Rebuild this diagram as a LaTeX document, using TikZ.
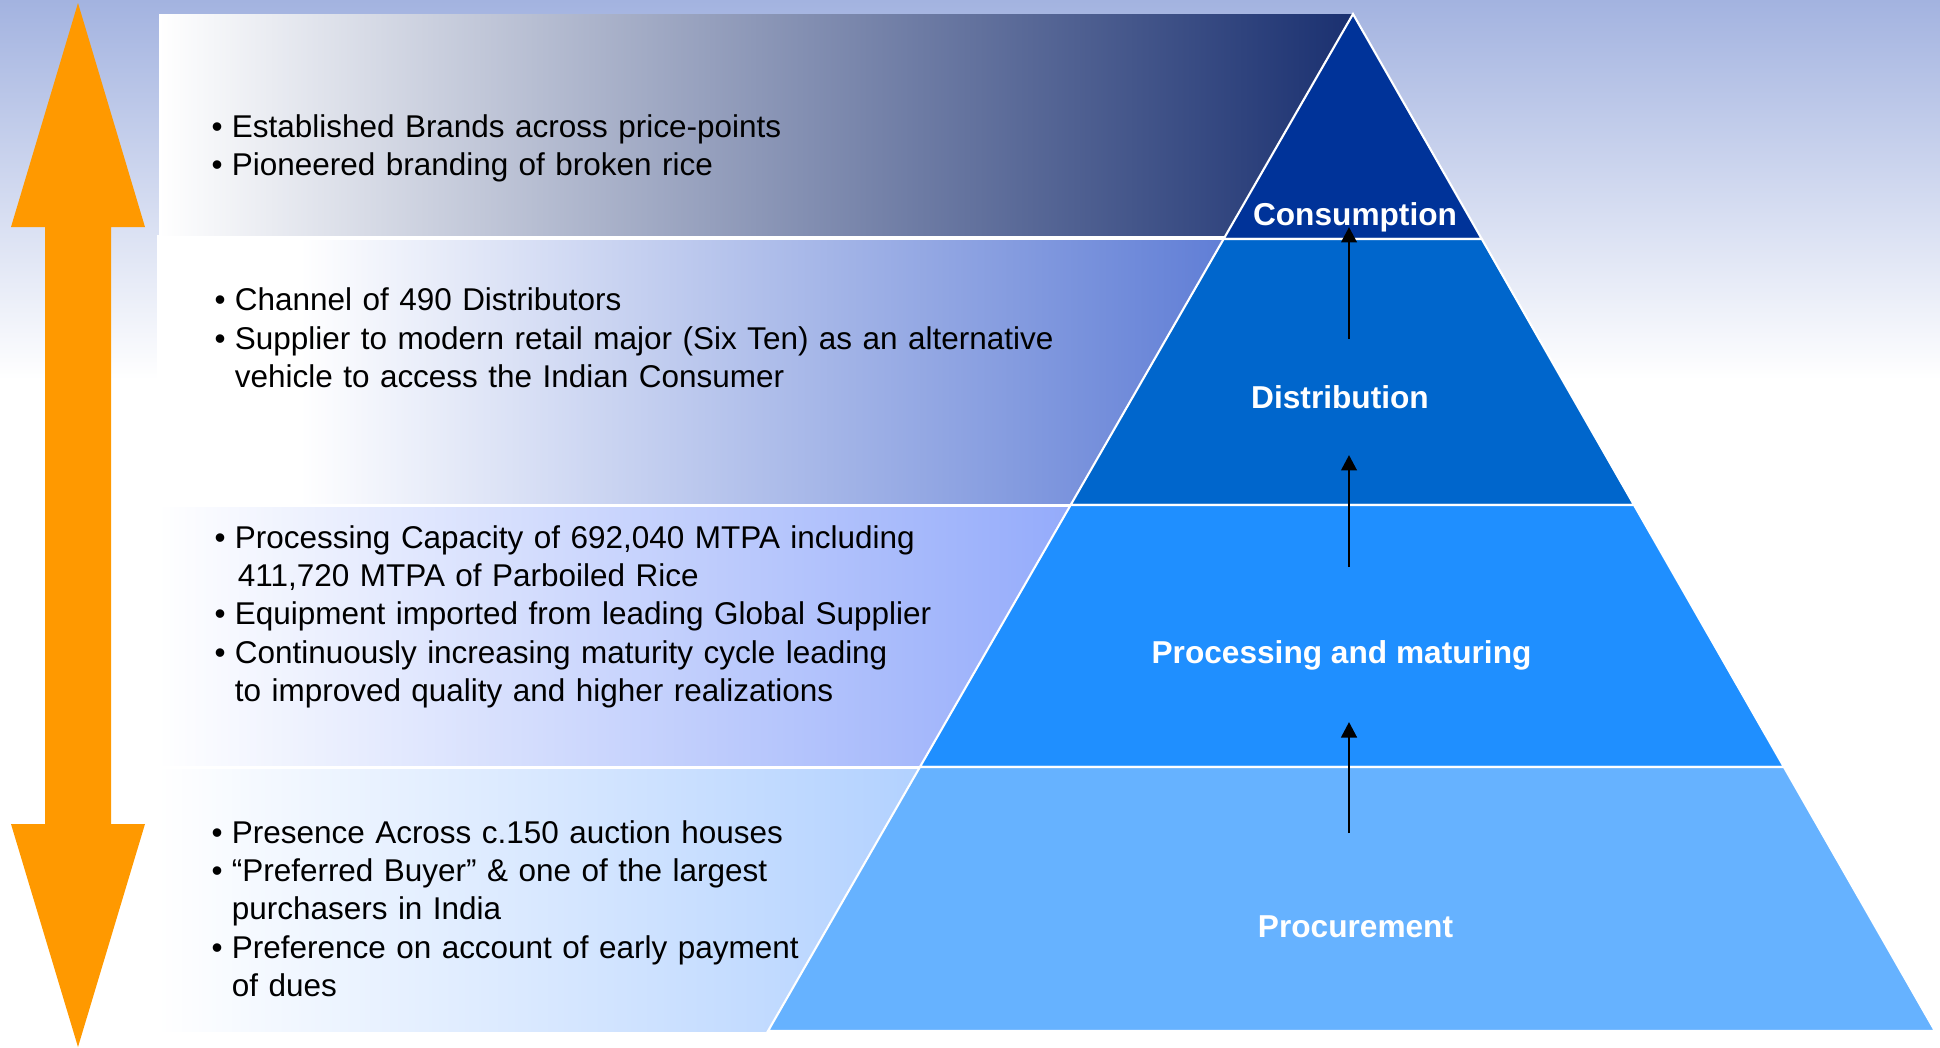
\documentclass[tikz,border=0pt]{standalone}
\usepackage{fontspec}
\setmainfont{Liberation Sans}
\usetikzlibrary{arrows.meta}
\definecolor{bgtop}{HTML}{A3B3E0}
\definecolor{orangeA}{HTML}{FF9900}
\definecolor{consC}{HTML}{003399}
\definecolor{distC}{HTML}{0066CC}
\definecolor{procC}{HTML}{1F8FFF}
\definecolor{procuC}{HTML}{66B2FF}
\definecolor{pOneM}{HTML}{C6C8D5}
\definecolor{pOneR}{HTML}{1A3070}
\definecolor{pTwoR}{HTML}{4A6CD0}
\definecolor{pThreeM}{HTML}{CDD6FB}
\definecolor{pThreeR}{HTML}{7391F9}
\definecolor{pFourM}{HTML}{D8E8FF}
\definecolor{pFourR}{HTML}{86B7FF}
\newcommand{\bitem}{\makebox[0.64em][l]{•}}
\newcommand{\bcont}{\hspace*{0.64em}}
\begin{document}
\begin{tikzpicture}[x=0.01cm,y=-0.01cm,
  body/.style={font=\fontsize{8.95}{10.9}\selectfont, anchor=base west, inner sep=0pt, text width=12cm, align=left},
  lbl/.style={font=\fontsize{9}{10.9}\selectfont\bfseries, text=white, anchor=base, inner sep=0pt},
  layer/.style={draw=white, line width=0.6pt},
  conn/.style={-{Triangle[length=4.4pt,width=4.4pt]}, line width=0.8pt, black}]
\useasboundingbox (0,0) rectangle (1940,1047);
% background
\fill[white] (0,0) rectangle (1940,1047);
\shade[top color=bgtop, bottom color=white] (0,0) rectangle (1940,380);
% panels
\fill[white] (157,235) rectangle (1353,1031);
\shade[left color=white, middle color=pOneM, right color=pOneR] (159,14) rectangle (1353,235);
\fill[white] (157,240) rectangle (302,503);
\shade[left color=white, right color=pTwoR] (300,240) rectangle (1353,503);
\shade[left color=white, middle color=pThreeM, right color=pThreeR] (157,507) rectangle (1353,765);
\shade[left color=white, middle color=pFourM, right color=pFourR] (157,769) rectangle (1353,1031);
% pyramid
\filldraw[layer, fill=consC] (1353,14) -- (1481.8,239) -- (1223.6,239) -- cycle;
\filldraw[layer, fill=distC] (1223.6,239) -- (1481.8,239) -- (1634.0,505) -- (1070.6,505) -- cycle;
\filldraw[layer, fill=procC] (1070.6,505) -- (1634.0,505) -- (1783.9,767) -- (919.9,767) -- cycle;
\filldraw[layer, fill=procuC] (919.9,767) -- (1783.9,767) -- (1935,1031) -- (768,1031) -- cycle;
% orange double arrow
\fill[orangeA] (78,3) -- (145,227) -- (111,227) -- (111,824) -- (145,824) -- (78,1047)
  -- (11,824) -- (45,824) -- (45,227) -- (11,227) -- cycle;
% labels
\node[lbl] (cons) at (1355,225) {Consumption};
\node[lbl] (dist) at (1340,408) {Distribution};
\node[lbl] (proc) at (1341.5,663) {Processing and maturing};
\node[lbl] (procu) at (1355.5,937) {Procurement};
% arrows
\coordinate (t1) at (1349,339); \coordinate (h1) at (1349,227);
\coordinate (t2) at (1349,567); \coordinate (h2) at (1349,455);
\coordinate (t3) at (1349,833); \coordinate (h3) at (1349,722);
\draw[conn] (t1) -- (h1);
\draw[conn] (t2) -- (h2);
\draw[conn] (t3) -- (h3);
% text blocks
\node[body] (b1) at (211,137) {\bitem Established Brands across price-points\\
\bitem Pioneered branding of broken rice};
\node[body] (b2) at (214,310.7) {\bitem Channel of 490 Distributors\\
\bitem Supplier to modern retail major (Six Ten) as an alternative\\
\bcont vehicle to access the Indian Consumer};
\node[body] (b3) at (214,548.3) {\bitem Processing Capacity of 692,040 MTPA including\\
\bcont\hspace*{0.1em}411,720 MTPA of Parboiled Rice\\
\bitem Equipment imported from leading Global Supplier\\
\bitem Continuously increasing maturity cycle leading\\
\bcont to improved quality and higher realizations};
\node[body] (b4) at (211,843.3) {\bitem Presence Across c.150 auction houses\\
\bitem “Preferred Buyer” \& one of the largest\\
\bcont purchasers in India\\
\bitem Preference on account of early payment\\
\bcont of dues};
\end{tikzpicture}
\end{document}
